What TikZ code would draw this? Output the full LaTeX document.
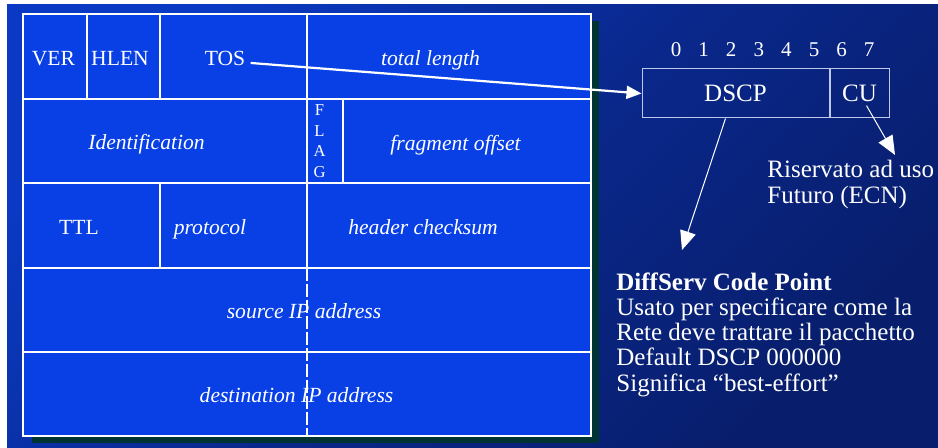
\documentclass[tikz,border=0pt]{standalone}
\usepackage{fontspec}
\setmainfont{Liberation Serif}
\usetikzlibrary{positioning, arrows.meta}

\definecolor{slidetop}{RGB}{10,58,196}
\definecolor{slidemid}{RGB}{10,40,140}
\definecolor{slidedark}{RGB}{8,30,108}
\definecolor{fieldblue}{RGB}{8,64,230}
\definecolor{shadowgreen}{RGB}{0,52,50}
\definecolor{boxline}{RGB}{190,200,232}

\begin{document}
\begin{tikzpicture}[x=0.5pt, y=-0.5pt,
        field/.style={draw=white, line width=1.1pt, fill=fieldblue},
        lbl/.style={text=white, anchor=base, inner sep=0pt, font=\fontsize{10.8}{13}\selectfont},
        ilbl/.style={lbl, font=\fontsize{10.8}{13}\selectfont\itshape},
        flaglbl/.style={text=white, align=center, inner sep=0pt, font=\fontsize{8.3}{10.25}\selectfont},
        bitlbl/.style={text=white, anchor=base, inner sep=0pt, font=\fontsize{10.5}{12}\selectfont},
        bitbox/.style={draw=boxline, line width=0.5pt, text=white, minimum height=24.5pt, inner sep=0pt, font=\fontsize{12.5}{14}\selectfont},
        note/.style={text=white, align=left, inner sep=0pt, font=\fontsize{12.5}{12.65}\selectfont},
        arrow/.style={-{Triangle[length=7.5pt, width=6.5pt]}, white, line width=1.1pt},
        thinarrow/.style={-{Triangle[length=9.5pt, width=8pt]}, white, line width=0.5pt}]

    \useasboundingbox (0,0) rectangle (938,448);
    \fill[white] (0,0) rectangle (938,448);
    \shade[top color=slidetop, bottom color=slidedark, middle color=slidemid, shading angle=45] (7,5) rectangle (938,448);

    % datagram header, one row per 32 bit word
    \fill[shadowgreen] (32,21) rectangle (599,443);
    \foreach \a/\b in {23/87, 87/160, 160/307, 307/591}
        \draw[field] (\a,14) rectangle (\b,99);
    \foreach \a/\b in {23/307, 307/343, 343/591}
        \draw[field] (\a,99) rectangle (\b,183);
    \foreach \a/\b in {23/160, 160/307, 307/591}
        \draw[field] (\a,183) rectangle (\b,268);
    \draw[field] (23,268) rectangle (591,352);
    \draw[field] (23,352) rectangle (591,436);
    \draw[white, line width=0.8pt, dash pattern=on 6.5pt off 1.5pt] (307,268) -- (307,436);

    \node[lbl] (ver) at (53.5,66) {VER};
    \node[lbl] (hlen) at (120,66) {HLEN};
    \node[lbl] (tos) at (225,66) {TOS};
    \node[ilbl] (totlen) at (430.5,66) {total length};
    \node[ilbl] (ident) at (146.5,150) {Identification};
    \node[flaglbl] (flag) at (319.5,141) {F\\L\\A\\G};
    \node[ilbl] (fragoff) at (455.5,151) {fragment offset};
    \node[lbl] (ttl) at (79,235) {TTL};
    \node[ilbl] (proto) at (210,235) {protocol};
    \node[ilbl] (hcksum) at (423,235) {header checksum};
    \node[ilbl] (srcip) at (304,319) {source IP address};
    \node[ilbl] (dstip) at (296.5,403) {destination IP address};

    % the TOS byte
    \node[bitbox, minimum width=93.5pt] (dscp) at (735.5,93.5) {DSCP};
    \node[bitbox, minimum width=29.5pt, right=0pt of dscp] (cu) {CU};
    \foreach \b in {0,...,7}
        \node[bitlbl] (bit\b) at (676+27.6*\b,57) {\b};

    \node[note, anchor=north west] (ecn) at (767,160) {Riservato ad uso\\Futuro (ECN)};
    \node[note, anchor=north west] (info) at (616,272) {\textbf{DiffServ Code Point}\\Usato per specificare come la\\Rete deve trattare il pacchetto\\Default DSCP 000000\\Significa “best-effort”};

    \coordinate (dscptip) at (682,250);
    \coordinate (ecntip) at (895,155);

    \draw[arrow] ([xshift=2.5pt, yshift=-2pt]tos.east) -- (dscp.west);
    \draw[thinarrow] ([xshift=-5pt]dscp.south) -- (dscptip);
    \draw[thinarrow, shorten <=7pt] (cu.center) -- (ecntip);
\end{tikzpicture}
\end{document}
